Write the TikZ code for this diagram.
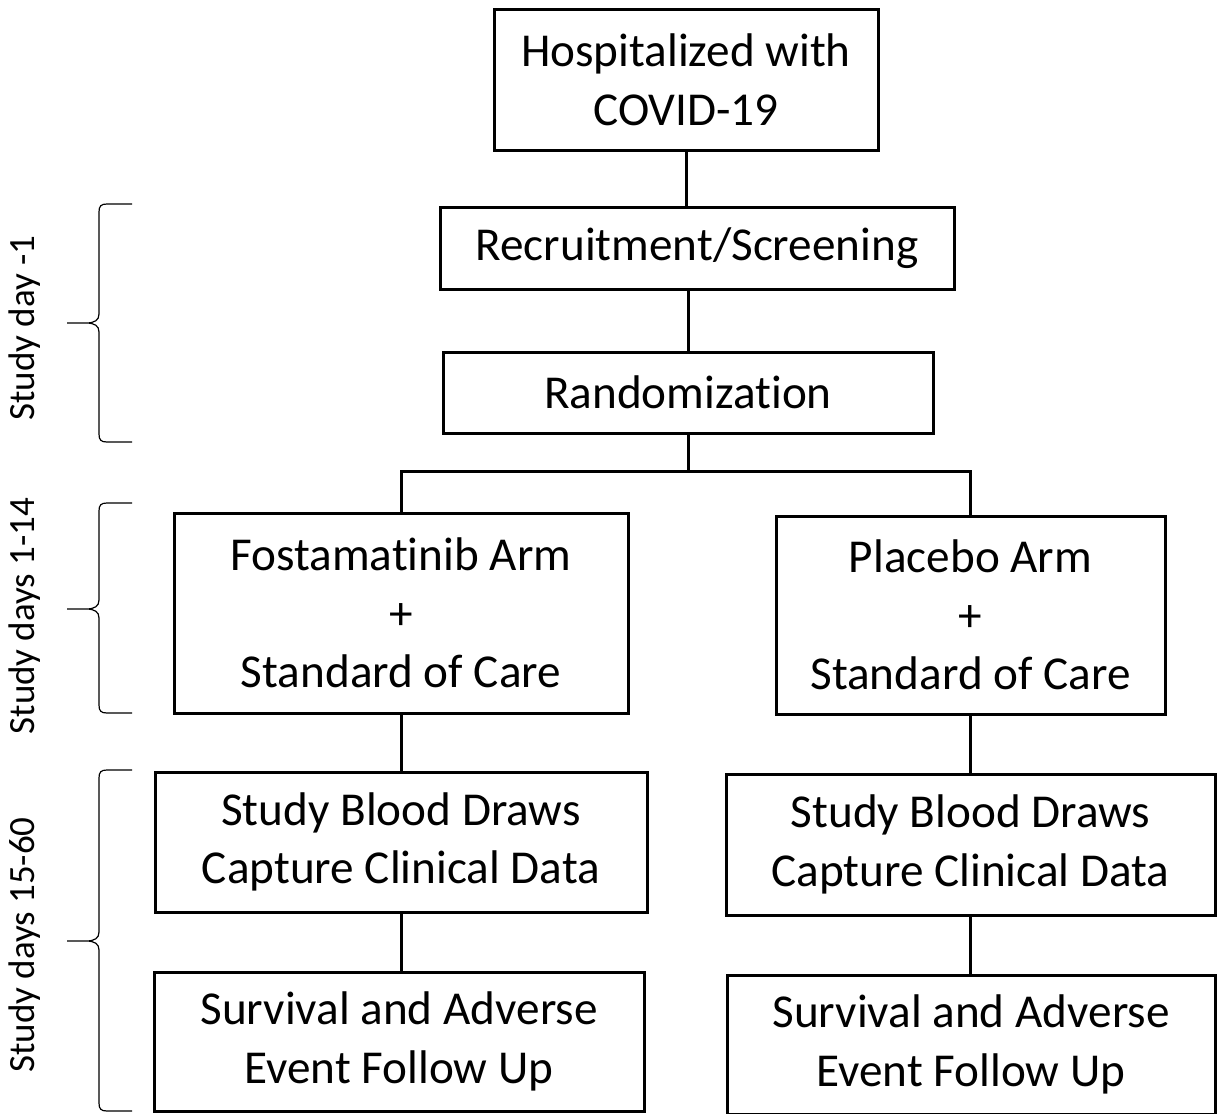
\documentclass[tikz,border=0pt]{standalone}
\usepackage{fontspec}
\setmainfont{Carlito}[Ligatures={NoCommon}]
\usetikzlibrary{positioning}

\begin{document}
\begin{tikzpicture}[x=0.5pt, y=-0.5pt,
  box/.style={draw, line width=1.5pt, align=center, inner sep=0pt, font=\fontsize{23.6pt}{29.3pt}\selectfont},
  link/.style={line width=1.5pt},
  bracket/.style={line width=0.6pt},
  period/.style={rotate=90, inner sep=0pt, font=\fontsize{18.5pt}{22pt}\selectfont}]
  \path[fill=white] (0,0) rectangle (1222,1114);
  \useasboundingbox (0,0) rectangle (1222,1114);

  % Screening path
  \node[box, minimum width=192pt, minimum height=70.5pt] (hosp) at (686, 79.5) {Hospitalized with\\COVID-19};
  \node[box, minimum width=257pt, minimum height=41pt] (recruit) at (697, 248.5) {Recruitment/Screening};
  \node[box, minimum width=245pt, minimum height=40.5pt] (rand) at (688, 392.5) {Randomization};

  % Study arms
  \node[box, minimum width=227pt, minimum height=100pt] (fosta) at (401, 613) {Fostamatinib Arm\\+\\Standard of Care};
  \node[box, minimum width=194.5pt, minimum height=99pt] (plac) at (970.5, 615) {Placebo Arm\\+\\Standard of Care};

  % Follow up
  \node[box, minimum width=246pt, minimum height=70pt] (bloodL) at (401, 842) {Study Blood Draws\\Capture Clinical Data};
  \node[box, minimum width=244.5pt, minimum height=70.5pt] (bloodR) at (970.5, 844.5) {Study Blood Draws\\Capture Clinical Data};
  \node[box, minimum width=245pt, minimum height=69.5pt] (survL) at (399, 1041.5) {Survival and Adverse\\Event Follow Up};
  \node[box, minimum width=244pt, minimum height=69.5pt] (survR) at (971, 1044.5) {Survival and Adverse\\Event Follow Up};

  % Connectors
  \draw[link] (hosp.south) -- (hosp.south |- recruit.north);
  \draw[link] (rand.north |- recruit.south) -- (rand.north);
  \coordinate (split) at (688, 471);
  \draw[link] (rand.south) -- (split);
  \draw[link] (fosta.north) |- (split) -| (plac.north);
  \draw[link] (fosta.south) -- (bloodL.north);
  \draw[link] (bloodL.south) -- (bloodL.south |- survL.north);
  \draw[link] (plac.south) -- (plac.south |- bloodR.north);
  \draw[link] (bloodR.south) -- (bloodR.south |- survR.north);

  % Study periods
  \draw[bracket] (132,204) -- (107,204) .. controls (101,204) and (99,206) .. (99,212) -- (99,314) .. controls (99,320) and (95,323) .. (86,323) -- (67,323) (86,323) .. controls (95,323) and (99,326) .. (99,332) -- (99,434) .. controls (99,440) and (101,442) .. (107,442) -- (132,442);
  \draw[bracket] (132,503) -- (107,503) .. controls (101,503) and (99,505) .. (99,511) -- (99,600) .. controls (99,606) and (95,609) .. (86,609) -- (67,609) (86,609) .. controls (95,609) and (99,612) .. (99,618) -- (99,705) .. controls (99,711) and (101,713) .. (107,713) -- (132,713);
  \draw[bracket] (132,770) -- (107,770) .. controls (101,770) and (99,772) .. (99,778) -- (99,932) .. controls (99,938) and (95,941) .. (86,941) -- (67,941) (86,941) .. controls (95,941) and (99,944) .. (99,950) -- (99,1103) .. controls (99,1109) and (101,1111) .. (107,1111) -- (132,1111);

  \node[period] (day0) at (25, 328) {Study day -1};
  \node[period] (day1) at (25, 616) {Study days 1-14};
  \node[period] (day2) at (25, 945) {Study days 15-60};
\end{tikzpicture}
\end{document}
